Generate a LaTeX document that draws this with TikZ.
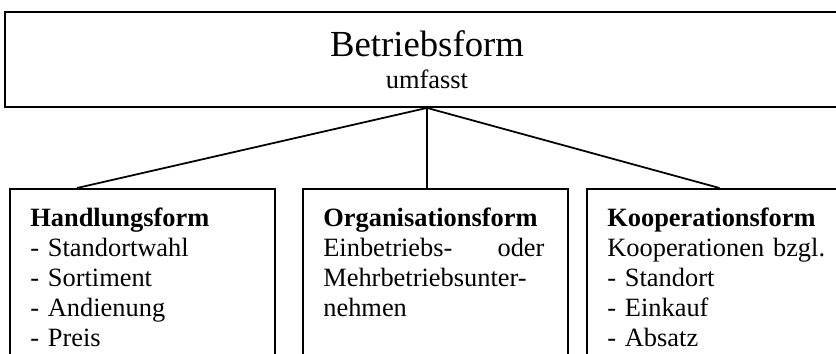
\documentclass[tikz,border=0pt]{standalone}
\usepackage{fontspec}
\setmainfont{Liberation Serif}
\usetikzlibrary{positioning, calc}

\begin{document}
\begin{tikzpicture}[
  x=0.4545pt, y=-0.4545pt,
  every node/.style = {font=\fontsize{12}{13.6}\selectfont},
  topbox/.style = {draw, line width=0.8pt, minimum width=383.6pt, minimum height=43.2pt},
  formbox/.style = {draw, line width=0.8pt, anchor=north west, minimum width=120.5pt, minimum height=90pt},
  formtext/.style = {anchor=north west, text width=100.5pt, align=left, inner xsep=9.5pt, inner ysep=9pt},
  branch/.style = {line width=0.8pt}
]
  \useasboundingbox (0,0) rectangle (836,354);
  \clip (0,0) rectangle (836,354);

  % Betriebsform
  \node[topbox] (betrieb) at (427,59.5) {};
  \node[anchor=base, font=\fontsize{16.7}{20}\selectfont] (titel) at (427,57) {Betriebsform};
  \node[anchor=base] (umfasst) at (427,89) {umfasst};

  % Handlungsform
  \node[formbox] (handlung) at (9,188) {};
  \node[formtext] (handlungtext) at (handlung.north west)
    {\textbf{Handlungsform}\\- Standortwahl\\- Sortiment\\- Andienung\\- Preis};

  % Organisationsform
  \node[formbox] (organisation) at (302,188) {};
  \node[formtext] (organisationtext) at (organisation.north west)
    {\textbf{Organisationsform}\\Einbetriebs-\hfill oder\\Mehrbetriebsunter-\\nehmen};

  % Kooperationsform
  \node[formbox] (kooperation) at (586,188) {};
  \node[formtext] (kooperationtext) at (kooperation.north west)
    {\textbf{Kooperationsform}\\Kooperationen bzgl.\\- Standort\\- Einkauf\\- Absatz};

  % Verbindungen
  \draw[branch] (betrieb.south) -- ($(handlung.north west)!0.255!(handlung.north east)$);
  \draw[branch] (betrieb.south) -- (betrieb.south |- organisation.north);
  \draw[branch] (betrieb.south) -- (kooperation.north);

\end{tikzpicture}
\end{document}
